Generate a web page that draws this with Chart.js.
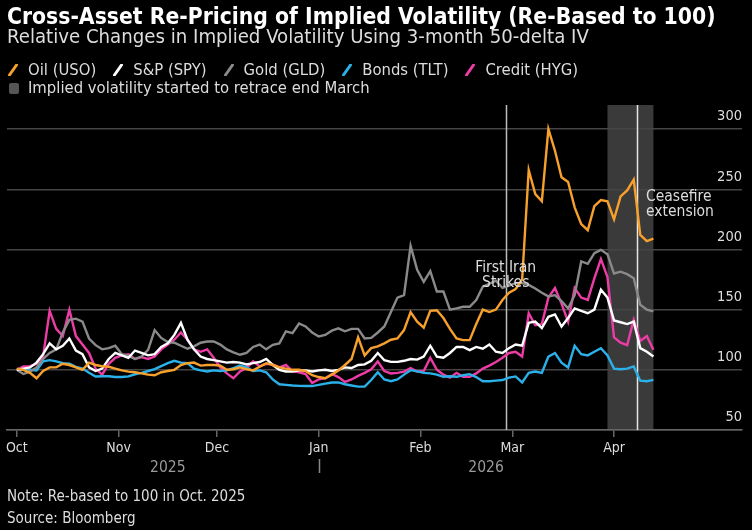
<!DOCTYPE html>
<html><head><meta charset="utf-8">
<script src="https://cdn.jsdelivr.net/npm/chart.js@4.4.0/dist/chart.umd.min.js"></script>
<style>
html,body{margin:0;padding:0;background:#000;width:752px;height:530px;overflow:hidden;}
body{position:relative;font-family:"DejaVu Sans Condensed","DejaVu Sans",sans-serif;color:#ddd;}
.t{position:absolute;white-space:nowrap;}
#title{left:7px;top:5px;font-size:22.7px;line-height:22.7px;font-weight:bold;color:#fff;}
#sub{left:7px;top:26px;font-size:20.2px;line-height:20.2px;color:#ddd;}
#leg1{position:absolute;left:8px;top:62px;display:flex;align-items:center;font-size:16.5px;line-height:16.5px;color:#ddd;white-space:nowrap;}
#leg1 .it{display:flex;align-items:center;margin-right:17px;}
#leg1 svg{margin-right:10px;}
#leg2{position:absolute;left:9px;top:80px;display:flex;align-items:center;font-size:16.5px;line-height:16.5px;color:#ddd;white-space:nowrap;}
#leg2 .sq{width:10px;height:11px;background:#555;border-radius:2px;margin-right:9px;}
.foot{position:absolute;left:7px;font-size:15px;line-height:15px;color:#ddd;white-space:nowrap;}
#wrap{position:absolute;left:0;top:0;width:752px;height:530px;}
</style></head>
<body>
<div id="wrap"><canvas id="c"></canvas></div>
<div class="t" id="title">Cross-Asset Re-Pricing of Implied Volatility (Re-Based to 100)</div>
<div class="t" id="sub">Relative Changes in Implied Volatility Using 3-month 50-delta IV</div>
<div id="leg1"></div>
<div id="leg2"><div class="sq"></div><span id="bandText"></span></div>
<div class="foot" style="top:489px">Note: Re-based to 100 in Oct. 2025</div>
<div class="foot" style="top:511px">Source: Bloomberg</div>
<script>
// ---- data ----
const days = [0,2,4,6,8,10,12,14,16,18,20,22,24,26,28,30,32,34,36,38,40,42,44,46,48,50,52,54,56,58,60,62,64,66,68,70,72,74,76,78,80,82,84,86,88,90,92,94,96,98,100,102,104,106,108,110,112,114,116,118,120,122,124,126,128,130,132,134,136,138,140,142,144,146,148,150,152,154,156,158,160,162,164,166,168,170,172,174,176,178,180,182,184,186,188,190,192,194]; // days since 1 Oct 2025
const seriesNames = ['Oil (USO)','S&P (SPY)','Gold (GLD)','Bonds (TLT)','Credit (HYG)'];
const seriesColors = ['#F7A02C','#FFFFFF','#8A8A8A','#2BB1EA','#EE3CA6'];
const oil = [101,100,97.5,93,99,102,102,105,104,102,
  100,106,104,103,102.5,101,99.5,98.5,98,97,
  96,95.5,98,99,100,104,105.5,106,103.5,104,
  104,103.5,100,100.5,102,100.5,99.5,102.5,105.5,104,
  102,101,100,100,99,95.5,94,93,96,99.5,
  104,109,127,112,118,119.5,122,125,126,133,
  148,140,135,149,149.5,143,134,126,124.7,124.7,
  138,150,148,150,158,164,167,175,266,246,
  240,300,282,260,256,235,221,216,236,241,
  240,225,244,249,258,212,207,209];
const spx = [100,101,102,106,113,122,117,120,126,116,
  113,102,99,101,109,114,112,110,116,114,
  112,113,119,122,129,139,125,117,111,109,
  108,107,106,106.5,106,104.5,105.5,106.5,109,104,
  100,98.6,98.6,99.5,99.5,98.6,99.5,100,99,100,
  102,101.5,104,104.5,107.5,114,108,106.6,106.6,107.5,
  109,108.5,111,120,111,110,114,119,119,116.3,
  119,117.5,121,115,114,118,121,120,139,140,
  134.6,144,146,136,143,151,149,147,150,166.5,
  160,141,139.5,138,140,118,115,111];
const gold = [100,96.5,98.5,102,109,114,117,131,141.5,142.5,
  140,126,120.5,117,118,120,113,111.5,109,111,
  116.5,133,126.5,123,122.5,120,117.5,119.5,122.5,123.5,
  123.5,121,117,114.5,112.5,114,119,121,117,120.8,
  122,132,130.5,138.5,136,131,127.7,129,132.5,134.5,
  132,134,134,126,126.5,131,136,148,160,162,
  203,183,173,182,165,165,150,151,152.4,152.4,
  158,169,171.5,174,168,170,172,172,170.6,167.5,
  164,161,162,157,151,162,190,188,197,199.7,
  196,180,181.5,179.5,176,154,150,148.5];
const bonds = [100,100.5,100,99.5,107,108,107,105.5,105,102.5,
  101,97.5,94.5,94.7,94.7,94,94,94.5,96.3,97.5,
  99,100.5,103,105.5,107.5,106,105.5,101,99.5,98.6,
  99.5,99,99.5,101.5,103.5,102,99,99.5,98,92,
  88,87.5,87,86.7,86.5,86.5,87.5,88.5,89.5,89.5,
  88,87,86,86,91.5,98,92,90.5,92,96,
  99.7,98.7,97.5,97,96,94.2,94.7,94.2,95.5,96.4,
  94,90.5,90.5,91,91.5,93.5,94.5,89.5,97.5,98.6,
  97.5,111,114,106,102,120,113,112,115,118,
  112,101,100.5,101,102.8,91,90.5,91.7];
const credit = [100,102.8,103,105,111,149,134,128,150,128,
  121,114,101,96,105,110,112,113,109,110.5,
  109,111,117,121,125,131,125,117,115,117,
  110,102,97,93,98.6,101.4,107,102.8,105,104.5,
  102,104,99,98,96.5,89,92,93,96.5,94,
  90,92,95,97.5,100.5,107,99,97,97.5,98.5,
  101.5,98.5,99,110,100,96,93.5,97.5,94.2,94.2,
  97,101,103.5,106.5,110,114,115,111,147,137,
  138,160,168,155,140,168,160,158,176,192,
  177,127,122.5,120.5,141.5,124,128,116.6];
const monthDays = [0,31,61,92,123,151,182];
const monthNames = ['Oct','Nov','Dec','Jan','Feb','Mar','Apr'];
const yTicks = [50,100,150,200,250,300];
const yearSpans = [['2025',0,92],['2026',92,194]];
const yearBreaks = [92];
const bandRange = [180,194];
const bandLabel = 'Implied volatility started to retrace end March';
const eventDays = [149,189];
const eventLabels = [['First Iran','Strikes'],['Ceasefire','extension']];

// ---- legend ----
const leg1 = document.getElementById('leg1');
seriesNames.forEach((n,i)=>{
  const it = document.createElement('div'); it.className='it';
  it.innerHTML = '<svg width="10" height="12"><line x1="1.5" y1="11" x2="8.5" y2="1" stroke="'+seriesColors[i]+'" stroke-width="3" stroke-linecap="round"/></svg><span>'+n+'</span>';
  leg1.appendChild(it);
});
document.getElementById('bandText').textContent = bandLabel;

const FONT = '"DejaVu Sans Condensed","DejaVu Sans",sans-serif';
const allSeries = [oil,spx,gold,bonds,credit];

const decor = {
  id:'decor',
  beforeDraw(chart){
    const {ctx, chartArea:a, scales:{x}} = chart;
    ctx.save();
    ctx.fillStyle = '#3a3a3a';
    const x0 = x.getPixelForValue(bandRange[0]), x1 = x.getPixelForValue(bandRange[1]);
    ctx.fillRect(x0, a.top, x1-x0, a.bottom-a.top);
    ctx.restore();
  },
  beforeDatasetsDraw(chart){
    const {ctx, chartArea:a, scales:{x}} = chart;
    ctx.save();
    ctx.lineWidth = 1.5;
    eventDays.forEach((d,i)=>{
      const px = Math.round(x.getPixelForValue(d))+0.5;
      ctx.strokeStyle = i===0 ? '#bdbdbd' : '#e6e6e6';
      ctx.beginPath(); ctx.moveTo(px,a.top); ctx.lineTo(px,a.bottom); ctx.stroke();
    });
    ctx.restore();
  },
  afterDatasetsDraw(chart){
    const {ctx, scales:{x,y}} = chart;
    ctx.save();
    ctx.fillStyle = '#ddd';
    ctx.font = '15.5px '+FONT;
    ctx.textBaseline = 'alphabetic';
    let px = x.getPixelForValue(eventDays[0]);
    ctx.textAlign = 'center';
    ctx.fillText(eventLabels[0][0], px, 272);
    ctx.fillText(eventLabels[0][1], px, 287);
    px = x.getPixelForValue(eventDays[1]);
    ctx.textAlign = 'left';
    ctx.fillText(eventLabels[1][0], px+9, 201);
    ctx.fillText(eventLabels[1][1], px+9, 216);
    ctx.restore();
  },
  afterDraw(chart){
    const {ctx, scales:{x}} = chart;
    ctx.save();
    ctx.fillStyle = '#9a9a9a';
    ctx.font = '15.5px '+FONT;
    ctx.textAlign = 'center';
    yearSpans.forEach(([lab,a,b])=>{
      const px = (x.getPixelForValue(a)+x.getPixelForValue(b))/2;
      ctx.fillText(lab, px, 472);
    });
    ctx.strokeStyle = '#888'; ctx.lineWidth = 1.5;
    yearBreaks.forEach(d=>{
      const px = Math.round(x.getPixelForValue(d))+0.5;
      ctx.beginPath(); ctx.moveTo(px,459); ctx.lineTo(px,473); ctx.stroke();
    });
    ctx.restore();
  }
};

new Chart(document.getElementById('c'), {
  type:'line',
  data:{
    datasets: allSeries.map((s,i)=>({
      label: seriesNames[i],
      data: s.map((v,j)=>({x:days[j], y:v})),
      borderColor: seriesColors[i],
      backgroundColor: seriesColors[i],
      borderWidth: 2.4,
      pointRadius: 0,
      tension: 0,
      fill: false
    }))
  },
  options:{
    responsive:true, maintainAspectRatio:false, animation:false,
    layout:{padding:{left:7,right:10,top:105,bottom:0}},
    plugins:{legend:{display:false}, tooltip:{enabled:false}},
    scales:{
      x:{
        type:'linear', min:-3, max:221,
        afterBuildTicks:s=>{ s.ticks = monthDays.map(v=>({value:v})); },
        ticks:{callback:v=>monthNames[monthDays.indexOf(v)], color:'#ddd', font:{family:FONT,size:14}, padding:3, maxRotation:0, autoSkip:false},
        grid:{drawOnChartArea:false, drawTicks:true, tickLength:7, color:'#666', lineWidth:1.5},
        border:{display:true, color:'#666', width:1.5},
        afterFit:s=>{ s.height = 100; }
      },
      y:{
        position:'right', min:50, max:320,
        afterBuildTicks:s=>{ s.ticks = yTicks.map(v=>({value:v})); },
        ticks:{mirror:true, padding:0, labelOffset:-12.5, color:'#ddd', font:{family:FONT,size:14.5}},
        grid:{color:'#454545', lineWidth:1.5, drawTicks:false},
        border:{display:false},
        afterFit:s=>{ s.width = 0; }
      }
    }
  },
  plugins:[decor]
});
</script>
</body></html>
